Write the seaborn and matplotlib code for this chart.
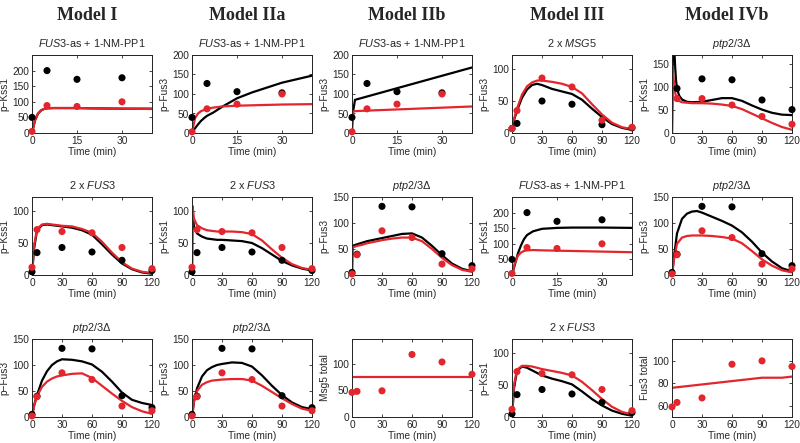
import matplotlib
matplotlib.use("Agg")
import matplotlib.pyplot as plt
import seaborn as sns

sns.set_style("ticks")
plt.rcParams['font.family'] = ['Liberation Sans', 'DejaVu Sans']
plt.rcParams['mathtext.fontset'] = 'custom'
plt.rcParams['mathtext.it'] = 'Liberation Sans:italic'
plt.rcParams['mathtext.rm'] = 'Liberation Sans'

BLACK = '#000000'
RED = '#e3262d'

# ---------------- experimental data ----------------
T_PP1 = [0, 5, 15, 30]
PP1_KSS1_BLACK = [50, 200, 172, 177]
PP1_KSS1_RED = [5, 88, 85, 100]
PP1_FUS3_BLACK = [40, 127, 106, 103]
PP1_FUS3_RED = [3, 62, 74, 100]

T_TC = [0, 5, 30, 60, 90, 120]
MSG5_FUS3_BLACK = [7, 15, 50, 45, 13, 8]
MSG5_FUS3_RED = [7, 35, 86, 72, 20, 9]
FUS3X2_KSS1_BLACK = [5, 35, 43, 36, 23, 7]
FUS3X2_KSS1_RED = [12, 71, 68, 66, 43, 10]
PTP_FUS3_BLACK = [5, 40, 132, 131, 41, 18]
PTP_FUS3_RED = [2, 39, 85, 72, 21, 12]
MSG5_TOTAL = [46, 48, 49, 117, 103, 80]
FUS3_TOTAL = [59, 63, 67, 97, 100, 95]

T_PTP_KSS1 = [5, 30, 60, 90, 120]
PTP_KSS1_BLACK = [97, 118, 116, 72, 51]
PTP_KSS1_RED = [75, 75, 61, 36, 19]

# ---------------- model curves ----------------
TF = [0, 2, 5, 10, 15, 20, 25, 30, 40, 50, 60, 70, 80, 90, 100, 110, 120]
TS = [0, 0.5, 2, 5, 10, 15, 20, 25, 30, 40, 50, 60, 70, 80, 90, 100, 110, 120]
TP = [0, 1, 2, 3, 4, 5, 7, 10, 15, 20, 30, 40]

I_PP1_BLACK = [0, 40, 62, 72, 77, 79, 80, 80, 80, 79, 78, 78]
I_PP1_RED = [0, 42, 63, 73, 77, 79, 80, 80, 80, 79, 78, 77]
IIA_PP1_BLACK = [0, 12, 22, 31, 38, 44, 52, 67, 89, 104, 129, 147]
IIA_PP1_RED = [0, 38, 50, 56, 59, 62, 65, 68, 70, 71, 73, 74]
T_IIB = [0, 1, 40]
IIB_PP1_BLACK = [38, 85, 168]
T_IIB_RED = [0, 0.5, 40]
IIB_PP1_RED = [0, 56, 68]
III_MSG5_BLACK = [5, 20, 35, 55, 68, 75, 77, 75, 69, 65, 61, 52, 38, 25, 14, 8, 5]
III_MSG5_RED = [5, 22, 38, 60, 73, 79, 82, 82, 80, 77, 72, 62, 45, 29, 16, 9, 6]
T_IVB_K = [0, 1, 2, 3, 4, 5, 7, 10, 15, 20, 30, 40, 50, 60, 70, 80, 90, 100, 110, 120]
IVB_KSS1_BLACK = [0, 250, 200, 150, 115, 98, 82, 73, 68, 67, 68, 72, 76, 76, 70, 60, 51, 44, 40, 39]
IVB_KSS1_RED = [0, 128, 110, 90, 80, 75, 70, 67, 66, 65, 65, 64, 62, 59, 52, 42, 32, 22, 13, 7]

I_FUS3X2_BLACK = [0, 40, 70, 78, 79, 78, 77, 76, 74, 70, 63, 48, 32, 18, 9, 4, 2]
I_FUS3X2_RED = [0, 45, 72, 79, 80, 79, 78, 77, 76, 72, 66, 52, 35, 20, 10, 5, 3]
IIA_FUS3X2_BLACK = [0, 100, 75, 65, 60, 57, 56, 55, 55, 54, 53, 50, 42, 32, 22, 15, 10, 7]
IIA_FUS3X2_RED = [0, 108, 88, 78, 73, 70, 69, 68, 68, 68, 67, 64, 54, 40, 27, 17, 11, 8]
IIB_PTP_BLACK = [5, 56, 57, 59, 62, 65, 67, 69, 71, 75, 79, 80, 72, 56, 38, 22, 12, 7]
IIB_PTP_RED = [2, 53, 54, 56, 58, 61, 63, 65, 67, 70, 72, 72, 65, 50, 33, 19, 10, 6]
III_PP1_BLACK = [0, 35, 70, 95, 115, 128, 140, 148, 151, 152, 152, 151]
III_PP1_RED = [0, 40, 62, 72, 77, 79, 80, 79, 78, 77, 75, 73]
IVB_PTP_BLACK = [0, 35, 80, 108, 118, 122, 123, 120, 112, 104, 95, 82, 64, 43, 26, 13, 7]
IVB_PTP_RED = [0, 30, 60, 72, 75, 76, 76, 76, 75, 73, 70, 61, 46, 30, 18, 9, 5]

I_PTP_BLACK = [0, 22, 42, 70, 88, 100, 107, 111, 110, 107, 101, 87, 68, 47, 33, 27, 23]
I_PTP_RED = [0, 20, 40, 58, 68, 74, 78, 80, 83, 84, 75, 60, 45, 31, 19, 11, 6]
IIA_PTP_BLACK = [0, 30, 55, 78, 90, 96, 100, 102, 105, 104, 97, 80, 60, 42, 28, 19, 15]
IIA_PTP_RED = [0, 30, 50, 62, 67, 70, 71, 72, 73, 73, 70, 60, 48, 36, 25, 16, 12]
T_FLAT = [0, 120]
IIB_MSG5_TOTAL = [74, 74]
III_FUS3X2_BLACK = [0, 45, 72, 79, 77, 73, 69, 65, 60, 56, 51, 40, 28, 18, 10, 5, 2]
III_FUS3X2_RED = [0, 50, 74, 80, 80, 79, 77, 75, 72, 69, 65, 55, 42, 28, 16, 8, 4]
T_FUS3T = [0, 10, 20, 30, 40, 50, 60, 70, 80, 90, 100, 110, 120]
IVB_FUS3_TOTAL = [76, 77, 78, 79, 80, 81, 82, 83, 84, 85, 85, 85, 86]

MODELS = ['Model I', 'Model IIa', 'Model IIb', 'Model III', 'Model IVb']

T_PP1_TITLE = r'$\mathit{FUS3}$-as + 1-NM-PP1'
T_FUS3X2 = r'2 x $\mathit{FUS3}$'
T_MSG5 = r'2 x $\mathit{MSG5}$'
T_PTP = r'$\mathit{ptp2/3}$' + '\u0394'
KSS1 = 'p\u2212Kss1'
FUS3 = 'p\u2212Fus3'

short_x = dict(xlim=(0, 40), xticks=[0, 15, 30])
long_x = dict(xlim=(0, 120), xticks=[0, 30, 60, 90, 120])

panels = [
    # row 1
    dict(title=T_PP1_TITLE, ylabel=KSS1, ylim=(0, 250), yticks=[0, 50, 100, 150, 200], **short_x,
         lines=[(TP, I_PP1_BLACK, BLACK), (TP, I_PP1_RED, RED)],
         pts=[(T_PP1, PP1_KSS1_BLACK, BLACK), (T_PP1, PP1_KSS1_RED, RED)]),
    dict(title=T_PP1_TITLE, ylabel=FUS3, ylim=(0, 200), yticks=[0, 50, 100, 150, 200], **short_x,
         lines=[(TP, IIA_PP1_BLACK, BLACK), (TP, IIA_PP1_RED, RED)],
         pts=[(T_PP1, PP1_FUS3_BLACK, BLACK), (T_PP1, PP1_FUS3_RED, RED)]),
    dict(title=T_PP1_TITLE, ylabel=FUS3, ylim=(0, 200), yticks=[0, 50, 100, 150, 200], **short_x,
         lines=[(T_IIB, IIB_PP1_BLACK, BLACK), (T_IIB_RED, IIB_PP1_RED, RED)],
         pts=[(T_PP1, PP1_FUS3_BLACK, BLACK), (T_PP1, PP1_FUS3_RED, RED)]),
    dict(title=T_MSG5, ylabel=FUS3, ylim=(0, 122), yticks=[0, 50, 100], **long_x,
         lines=[(TF, III_MSG5_BLACK, BLACK), (TF, III_MSG5_RED, RED)],
         pts=[(T_TC, MSG5_FUS3_BLACK, BLACK), (T_TC, MSG5_FUS3_RED, RED)]),
    dict(title=T_PTP, ylabel=KSS1, ylim=(0, 170), yticks=[0, 50, 100, 150], **long_x,
         lines=[(T_IVB_K, IVB_KSS1_BLACK, BLACK), (T_IVB_K, IVB_KSS1_RED, RED)],
         pts=[(T_PTP_KSS1, PTP_KSS1_BLACK, BLACK), (T_PTP_KSS1, PTP_KSS1_RED, RED)]),
    # row 2
    dict(title=T_FUS3X2, ylabel=KSS1, ylim=(0, 122), yticks=[0, 50, 100], **long_x,
         lines=[(TF, I_FUS3X2_BLACK, BLACK), (TF, I_FUS3X2_RED, RED)],
         pts=[(T_TC, FUS3X2_KSS1_BLACK, BLACK), (T_TC, FUS3X2_KSS1_RED, RED)]),
    dict(title=T_FUS3X2, ylabel=KSS1, ylim=(0, 122), yticks=[0, 50, 100], **long_x,
         lines=[(TS, IIA_FUS3X2_BLACK, BLACK), (TS, IIA_FUS3X2_RED, RED)],
         pts=[(T_TC, FUS3X2_KSS1_BLACK, BLACK), (T_TC, FUS3X2_KSS1_RED, RED)]),
    dict(title=T_PTP, ylabel=FUS3, ylim=(0, 150), yticks=[0, 50, 100, 150], **long_x,
         lines=[(TS, IIB_PTP_BLACK, BLACK), (TS, IIB_PTP_RED, RED)],
         pts=[(T_TC, PTP_FUS3_BLACK, BLACK), (T_TC, PTP_FUS3_RED, RED)]),
    dict(title=T_PP1_TITLE, ylabel=KSS1, ylim=(0, 250), yticks=[0, 50, 100, 150, 200], **short_x,
         lines=[(TP, III_PP1_BLACK, BLACK), (TP, III_PP1_RED, RED)],
         pts=[(T_PP1, PP1_KSS1_BLACK, BLACK), (T_PP1, PP1_KSS1_RED, RED)]),
    dict(title=T_PTP, ylabel=FUS3, ylim=(0, 150), yticks=[0, 50, 100, 150], **long_x,
         lines=[(TF, IVB_PTP_BLACK, BLACK), (TF, IVB_PTP_RED, RED)],
         pts=[(T_TC, PTP_FUS3_BLACK, BLACK), (T_TC, PTP_FUS3_RED, RED)]),
    # row 3
    dict(title=T_PTP, ylabel=FUS3, ylim=(0, 150), yticks=[0, 50, 100, 150], **long_x,
         lines=[(TF, I_PTP_BLACK, BLACK), (TF, I_PTP_RED, RED)],
         pts=[(T_TC, PTP_FUS3_BLACK, BLACK), (T_TC, PTP_FUS3_RED, RED)]),
    dict(title=T_PTP, ylabel=FUS3, ylim=(0, 150), yticks=[0, 50, 100, 150], **long_x,
         lines=[(TF, IIA_PTP_BLACK, BLACK), (TF, IIA_PTP_RED, RED)],
         pts=[(T_TC, PTP_FUS3_BLACK, BLACK), (T_TC, PTP_FUS3_RED, RED)]),
    dict(title='', ylabel='Msg5 total', ylim=(0, 146), yticks=[0, 50, 100], **long_x,
         lines=[(T_FLAT, IIB_MSG5_TOTAL, RED)],
         pts=[(T_TC, MSG5_TOTAL, RED)]),
    dict(title=T_FUS3X2, ylabel=KSS1, ylim=(0, 122), yticks=[0, 50, 100], **long_x,
         lines=[(TF, III_FUS3X2_BLACK, BLACK), (TF, III_FUS3X2_RED, RED)],
         pts=[(T_TC, FUS3X2_KSS1_BLACK, BLACK), (T_TC, FUS3X2_KSS1_RED, RED)]),
    dict(title='', ylabel='Fus3 total', ylim=(50, 119.5), yticks=[60, 80, 100], **long_x,
         lines=[(T_FUS3T, IVB_FUS3_TOTAL, RED)],
         pts=[(T_TC, FUS3_TOTAL, RED)]),
]

W, H = 800, 443
fig = plt.figure(figsize=(W / 100, H / 100), dpi=100)

col_left = [32, 192, 352, 512, 672]
row_top = [55, 197, 339]
ax_w, ax_h = 120, 78

for i, p in enumerate(panels):
    r, c = divmod(i, 5)
    ax = fig.add_axes([col_left[c] / W, 1 - (row_top[r] + ax_h) / H, ax_w / W, ax_h / H])
    for t, v, col in p['lines']:
        sns.lineplot(x=t, y=v, ax=ax, color=col, linewidth=1.6, estimator=None, sort=False)
    for t, v, col in p['pts']:
        sns.scatterplot(x=t, y=v, ax=ax, color=col, s=26, edgecolor='none', linewidth=0,
                        clip_on=False, zorder=4)
    ax.set_xlim(*p['xlim'])
    ax.set_ylim(*p['ylim'])
    ax.set_xticks(p['xticks'])
    ax.set_yticks(p['yticks'])
    ax.set_xticklabels([str(x) for x in p['xticks']])
    ax.set_yticklabels([str(y) for y in p['yticks']])
    ax.tick_params(direction='in', length=2.5, width=0.6, top=True, right=True,
                   labelsize=7.3, pad=2)
    for s in ax.spines.values():
        s.set_visible(True)
        s.set_linewidth(0.7)
        s.set_color('#222222')
    ax.set_xlabel('Time (min)', fontsize=7.3, labelpad=1)
    ax.set_ylabel(p['ylabel'], fontsize=7.3, labelpad=2)
    if p['title']:
        ax.set_title(p['title'], fontsize=7.8, pad=6)

for c, name in enumerate(MODELS):
    xc = (col_left[c] + ax_w / 2 - 5) / W
    fig.text(xc, 1 - 15 / H, name, family=['Liberation Serif', 'DejaVu Serif'],
             weight='bold', size=13, ha='center', va='center')

fig.savefig('out.png', dpi=100)
